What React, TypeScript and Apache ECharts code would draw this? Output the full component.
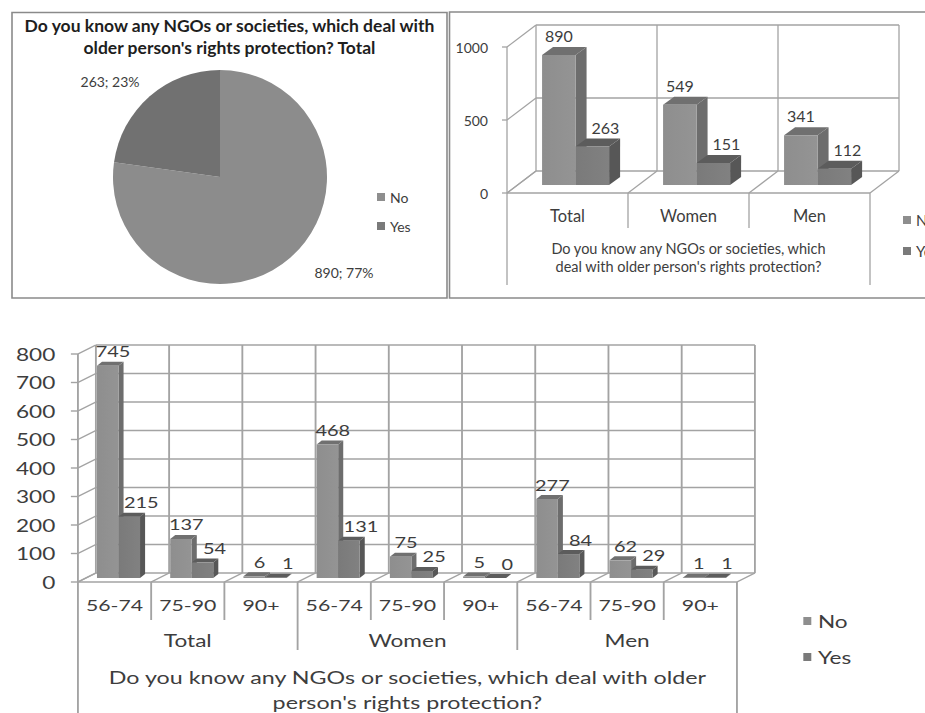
import React, { useEffect, useRef } from 'react';
import * as echarts from 'echarts';

// ---- survey answers ----
const answers = ['No', 'Yes'];
const pieValues = [890, 263];

const groups = ['Total', 'Women', 'Men'];
const groupNo = [890, 549, 341];
const groupYes = [263, 151, 112];
const groupTicks = [0, 500, 1000];

const ageBands = ['56-74', '75-90', '90+', '56-74', '75-90', '90+', '56-74', '75-90', '90+'];
const ageNo = [745, 137, 6, 468, 75, 5, 277, 62, 1];
const ageYes = [215, 54, 1, 131, 25, 0, 84, 29, 1];
const ageTicks = [0, 100, 200, 300, 400, 500, 600, 700, 800];

const pieTitle = "Do you know any NGOs or societies, which deal with\nolder person's rights protection? Total";
const questionShort = "Do you know any NGOs or societies, which\ndeal with older person's rights protection?";
const questionWide = "Do you know any NGOs or societies, which deal with older\nperson's rights protection?";

// ---- styling ----
const FONT = "Lato, 'Noto Sans', sans-serif";
const TEXT = '#3d3d3d';
const GRID = '#a3a3a3';
const NO_COL = { front: '#8e8e8e', side: '#6d6d6d', top: '#707070' };
const YES_COL = { front: '#7a7a7a', side: '#575757', top: '#5c5c5c' };
const STRETCH = 1.33; // the lower chart is drawn widened horizontally

// Oblique "3D" column: front face, right side and top face, plus value label.
function barSeries(name: string, values: number[], idx: number, col: any, geo: any) {
  return {
    type: 'custom',
    name,
    clip: false,
    z: 3,
    itemStyle: { color: col.front },
    data: values.map((v, i) => [i, v]),
    renderItem: (_p: any, api: any) => {
      const i = api.value(0);
      const v = api.value(1);
      const band = api.size([1, 0])[0];
      const base = api.coord([i, 0]);
      const top = api.coord([i, v]);
      const w = band * geo.barFrac;
      const x0 = base[0] + band * geo.pairOffset + (idx === 0 ? -w : 0) + geo.shift[0];
      const x1 = x0 + w;
      const yb = base[1] + geo.shift[1];
      const yt = top[1] + geo.shift[1];
      const [dx, dy] = geo.depth;
      return {
        type: 'group',
        children: [
          {
            type: 'polygon',
            shape: { points: [[x1, yb], [x1 + dx, yb + dy], [x1 + dx, yt + dy], [x1, yt]] },
            style: { fill: col.side },
          },
          {
            type: 'polygon',
            shape: { points: [[x0, yt], [x1, yt], [x1 + dx, yt + dy], [x0 + dx, yt + dy]] },
            style: { fill: col.top },
          },
          {
            type: 'rect',
            shape: { x: x0, y: yt, width: w, height: Math.max(yb - yt, 0) },
            style: {
              fill: new echarts.graphic.LinearGradient(0, 0, 1, 0, [
                { offset: 0, color: col.front },
                { offset: 1, color: echarts.color.lift(col.front, 0.06) },
              ]),
            },
          },
          {
            type: 'text',
            style: {
              text: String(v),
              x: (x0 + x1) / 2 + geo.labelDx[idx],
              y: yt + geo.labelDy,
              align: 'center',
              verticalAlign: 'middle',
              font: `${geo.labelSize}px ${FONT}`,
              fill: TEXT,
            },
          },
        ],
      };
    },
  };
}

// Walls, floor, axis line, ticks, separators below the floor and the axis title.
function frameSeries(cfg: any) {
  return {
    type: 'custom',
    silent: true,
    clip: false,
    z: 1,
    data: [[0, 0]],
    renderItem: (_p: any, api: any) => {
      const n = cfg.count;
      const band = api.size([1, 0])[0];
      const o = api.coord([0, 0]);
      const left = o[0] - band / 2;
      const right = left + band * n;
      const y0 = o[1];
      const yTop = api.coord([0, cfg.ticks[cfg.ticks.length - 1]])[1];
      const [dx, dy] = cfg.depth;
      const kids: any[] = [];
      const seg = (x1: number, y1: number, x2: number, y2: number) =>
        kids.push({ type: 'line', shape: { x1, y1, x2, y2 }, style: { stroke: GRID, lineWidth: cfg.lw } });
      cfg.ticks.forEach((t: number) => {
        const y = api.coord([0, t])[1];
        seg(left + dx, y + dy, right + dx, y + dy);
        seg(left, y, left + dx, y + dy);
        seg(left - cfg.tick, y, left, y);
      });
      for (let k = 0; k <= n; k++) {
        const x = left + band * k;
        seg(x + dx, y0 + dy, x + dx, yTop + dy);
        seg(x, y0, x + dx, y0 + dy);
        seg(x, y0, x, y0 + cfg.drop(k));
      }
      seg(left, y0, right, y0);
      seg(left, y0, left, yTop);
      kids.push({
        type: 'text',
        style: {
          text: cfg.question,
          x: (left + right) / 2,
          y: y0 + cfg.questionY,
          align: 'center',
          verticalAlign: 'top',
          font: `${cfg.qSize}px ${FONT}`,
          lineHeight: cfg.qLine,
          fill: TEXT,
        },
      });
      return { type: 'group', children: kids };
    },
  };
}

const legendBase = (left: number, top: number, w: number, h: number, gap: number, size: number, lh: number) => ({
  data: answers,
  orient: 'vertical',
  left,
  top,
  icon: 'rect',
  itemWidth: w,
  itemHeight: h,
  itemGap: gap,
  selectedMode: false,
  textStyle: { fontSize: size, lineHeight: lh, color: TEXT, fontFamily: FONT },
});

const geoTop = {
  barFrac: 0.277,
  pairOffset: -0.02,
  shift: [10.5, -8],
  depth: [11, -8],
  labelDx: [0, 13],
  labelDy: -19.5,
  labelSize: 16,
};

const geoBottom = {
  barFrac: 0.294,
  pairOffset: -0.015,
  shift: [3.8, -4],
  depth: [3.8, -4],
  labelDx: [4, 9],
  labelDy: -14,
  labelSize: 15,
};

const optionTop: any = {
  animation: false,
  graphic: [
    { type: 'rect', shape: { x: 12, y: 12.5, width: 435, height: 285.5 }, style: { fill: 'none', stroke: '#8a8a8a', lineWidth: 1.6 } },
    { type: 'rect', shape: { x: 449.5, y: 12, width: 520, height: 286 }, style: { fill: 'none', stroke: '#8a8a8a', lineWidth: 1.6 } },
    {
      type: 'text',
      x: 229.5,
      y: 14,
      style: {
        text: pieTitle,
        align: 'center',
        verticalAlign: 'top',
        font: `bold 17.5px ${FONT}`,
        lineHeight: 22,
        fill: '#1e1e1e',
      },
    },
  ],
  legend: [
    legendBase(372, 183, 8, 8, 11, 14, 18),
    legendBase(898, 206, 8, 8, 13, 15, 18),
  ],
  grid: { left: 507, top: 47, width: 363, height: 146, containLabel: false, outerBoundsMode: 'none' },
  xAxis: {
    type: 'category',
    data: groups,
    axisLine: { show: false },
    axisTick: { show: false },
    splitLine: { show: false },
    axisLabel: { margin: 14, fontSize: 16.5, lineHeight: 18, color: TEXT, fontFamily: FONT },
  },
  yAxis: {
    type: 'value',
    min: 0,
    max: 1000,
    interval: 500,
    axisLine: { show: false },
    axisTick: { show: false },
    splitLine: { show: false },
    axisLabel: { margin: 19, fontSize: 14, color: TEXT, fontFamily: FONT, formatter: (v: number) => String(v) },
  },
  series: [
    frameSeries({
      count: groups.length,
      ticks: groupTicks,
      depth: [29, -22],
      tick: 5,
      lw: 1.3,
      drop: (k: number) => (k === 0 || k === groups.length ? 92 : 35),
      question: questionShort,
      questionY: 47,
      qSize: 14.5,
      qLine: 17.5,
    }),
    barSeries('No', groupNo, 0, NO_COL, geoTop),
    barSeries('Yes', groupYes, 1, YES_COL, geoTop),
    {
      type: 'pie',
      name: 'Total',
      center: [220, 177],
      radius: 107,
      startAngle: 90,
      clockwise: true,
      avoidLabelOverlap: false,
      emphasis: { disabled: true },
      data: answers.map((n, i) => ({
        name: n,
        value: pieValues[i],
        itemStyle: { color: i === 0 ? '#8c8c8c' : '#717171' },
      })),
      label: {
        show: true,
        position: 'outside',
        formatter: (p: any) => `${p.value}; ${Math.round(p.percent)}%`,
        fontSize: 14,
        color: TEXT,
        fontFamily: FONT,
      },
      labelLine: { show: false, length: 20, length2: 4 },
      labelLayout: (p: any) => (p.dataIndex === 1 ? { dx: 12 } : { dx: 2 }),
    },
  ],
};

const optionBottom: any = {
  animation: false,
  legend: legendBase(599, 296, 6, 8, 16, 17, 20),
  grid: { left: 58.6, top: 44, width: 495.5, height: 228, containLabel: false, outerBoundsMode: 'none' },
  xAxis: [
    {
      type: 'category',
      data: ageBands,
      position: 'bottom',
      axisLine: { show: false },
      axisTick: { show: false },
      splitLine: { show: false },
      axisLabel: { interval: 0, margin: 13, fontSize: 16, lineHeight: 20, color: TEXT, fontFamily: FONT },
    },
    {
      type: 'category',
      data: groups,
      position: 'bottom',
      offset: 0,
      axisLine: { show: false },
      axisTick: { show: false },
      splitLine: { show: false },
      axisLabel: { interval: 0, margin: 48, fontSize: 17, lineHeight: 20, color: TEXT, fontFamily: FONT },
    },
  ],
  yAxis: {
    type: 'value',
    min: 0,
    max: 800,
    interval: 100,
    axisLine: { show: false },
    axisTick: { show: false },
    splitLine: { show: false },
    axisLabel: { margin: 17, fontSize: 17, color: TEXT, fontFamily: FONT },
  },
  series: [
    frameSeries({
      count: ageBands.length,
      ticks: ageTicks,
      depth: [13.5, -9],
      tick: 5.3,
      lw: 1.4,
      drop: (k: number) => (k === 0 || k === ageBands.length ? 140 : k % 3 === 0 ? 68 : 38),
      question: questionWide,
      questionY: 82.5,
      qSize: 17.5,
      qLine: 25,
    }),
    barSeries('No', ageNo, 0, NO_COL, geoBottom),
    barSeries('Yes', ageYes, 1, YES_COL, geoBottom),
  ],
};

export default function App() {
  const topRef = useRef<HTMLDivElement>(null);
  const bottomRef = useRef<HTMLDivElement>(null);

  useEffect(() => {
    const top = echarts.init(topRef.current as HTMLDivElement, undefined, { renderer: 'svg' });
    top.setOption(optionTop);
    const bottom = echarts.init(bottomRef.current as HTMLDivElement, undefined, { renderer: 'svg' });
    bottom.setOption(optionBottom);
    return () => {
      top.dispose();
      bottom.dispose();
    };
  }, []);

  return (
    <div
      style={{
        position: 'absolute',
        left: 0,
        top: 0,
        width: 925,
        height: 713,
        background: '#ffffff',
        overflow: 'hidden',
      }}
    >
      <div ref={topRef} style={{ position: 'absolute', left: 0, top: 0, width: 925, height: 305 }} />
      <div
        ref={bottomRef}
        style={{
          position: 'absolute',
          left: 0,
          top: 310,
          width: 925 / STRETCH,
          height: 403,
          transform: `scaleX(${STRETCH})`,
          transformOrigin: '0 0',
        }}
      />
    </div>
  );
}
